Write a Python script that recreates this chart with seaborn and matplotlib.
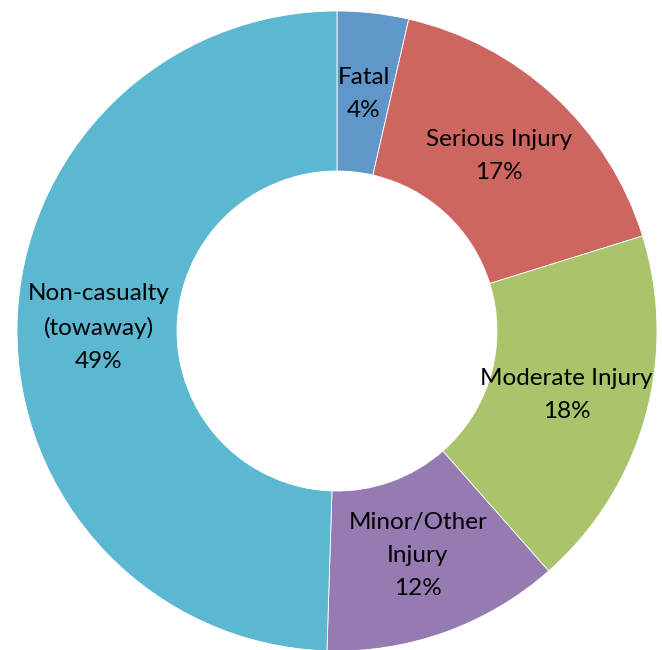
import matplotlib
matplotlib.use('Agg')
import matplotlib.pyplot as plt
import seaborn as sns

# Crash severity shares
CATEGORIES = ['Fatal', 'Serious Injury', 'Moderate Injury',
              'Minor/Other\nInjury', 'Non-casualty\n(towaway)']
SHARES = [3.6, 16.6, 18.3, 12.0, 49.5]
PCT_LABELS = ['4%', '17%', '18%', '12%', '49%']
COLORS = ['#6096C9', '#CD6660', '#AAC46C', '#957BB1', '#5BB8D0']

sns.set_style('white')
plt.rcParams['font.family'] = ['Lato', 'DejaVu Sans']

fig = plt.figure(figsize=(6.62, 6.5), dpi=100)
ax = fig.add_axes([17 / 662, -1 / 650, 640 / 662, 640 / 650])

labels = [f"{c}\n{p}" for c, p in zip(CATEGORIES, PCT_LABELS)]
wedges, texts = ax.pie(
    SHARES,
    labels=labels,
    colors=sns.color_palette(COLORS),
    startangle=90,
    counterclock=False,
    radius=1.0,
    labeldistance=0.745,
    wedgeprops=dict(width=0.5, edgecolor='white', linewidth=0.6),
    textprops=dict(fontsize=17.5, color='black'),
)
for t in texts:
    t.set_horizontalalignment('center')
    t.set_verticalalignment('center')
    t.set_linespacing(1.7)

ax.set_xlim(-1, 1)
ax.set_ylim(-1, 1)
ax.set_aspect('equal')
ax.axis('off')

fig.savefig('out.png', dpi=100)
